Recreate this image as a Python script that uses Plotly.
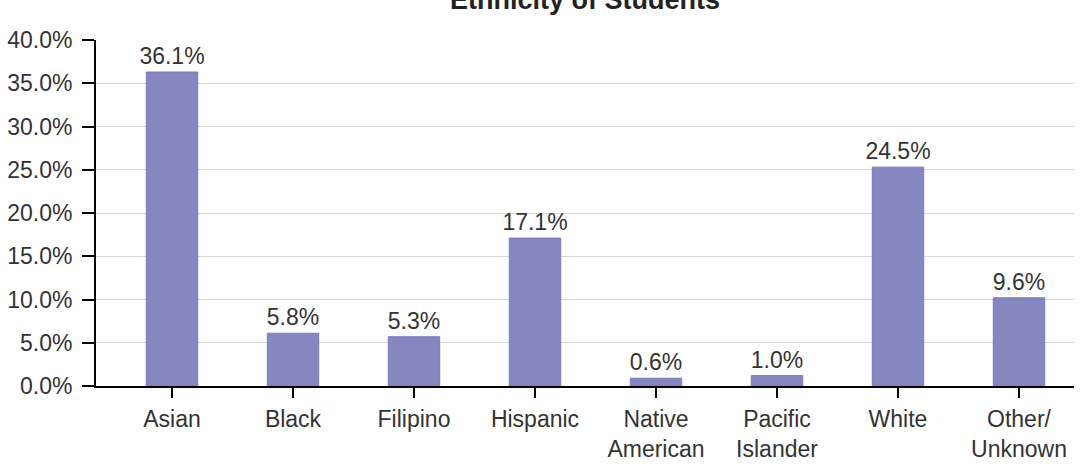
import plotly.graph_objects as go

categories = ["Asian", "Black", "Filipino", "Hispanic", "Native<br>American",
              "Pacific<br>Islander", "White", "Other/<br>Unknown"]
# bar heights as drawn in the picture (percent)
bar_heights = [36.3, 6.1, 5.7, 17.1, 0.9, 1.2, 25.3, 10.2]
# data labels printed above the bars
bar_labels = ["36.1%", "5.8%", "5.3%", "17.1%", "0.6%", "1.0%", "24.5%", "9.6%"]
y_ticks = [0, 5, 10, 15, 20, 25, 30, 35, 40]
y_tick_text = ["0.0%", "5.0%", "10.0%", "15.0%", "20.0%", "25.0%", "30.0%", "35.0%", "40.0%"]

FONT = "Liberation Sans, Arial, sans-serif"
positions = list(range(len(categories)))

fig = go.Figure(go.Bar(
    x=positions, y=bar_heights, text=bar_labels,
    textposition="outside", cliponaxis=False, constraintext="none",
    textfont=dict(family=FONT, size=23, color="#333333"),
    marker=dict(color="#8686c0", line=dict(color="#7a7ab8", width=1)),
    width=0.425,
))

fig.add_annotation(
    text="<b>Ethnicity of Students</b>", xref="paper", yref="paper",
    x=0.5, y=1 + 40/346, xanchor="center", yanchor="middle", showarrow=False,
    font=dict(family=FONT, size=27, color="#222222"),
)

fig.update_layout(
    width=1083, height=467,
    margin=dict(l=96, r=9, t=40, b=81, autoexpand=False),
    plot_bgcolor="white", paper_bgcolor="white",
    showlegend=False,
    font=dict(family=FONT, size=23, color="#333333"),
    xaxis=dict(
        range=[-76/121, 7 + 55/121],
        tickvals=positions, ticktext=categories,
        showline=True, linecolor="black", linewidth=2,
        ticks="outside", ticklen=10, tickwidth=2, tickcolor="black",
        ticklabelstandoff=1, automargin=False,
        tickfont=dict(family=FONT, size=23, color="#333333"),
        showgrid=False, zeroline=False,
    ),
    yaxis=dict(
        range=[0, 40], tickvals=y_ticks, ticktext=y_tick_text,
        showline=True, linecolor="black", linewidth=2,
        ticks="outside", ticklen=12, tickwidth=2, tickcolor="black",
        ticklabelstandoff=5, automargin=False,
        tickfont=dict(family=FONT, size=23, color="#333333"),
        showgrid=True, gridcolor="#d9d9d9", gridwidth=1,
        zeroline=False,
    ),
)

fig.write_html("out.html")
